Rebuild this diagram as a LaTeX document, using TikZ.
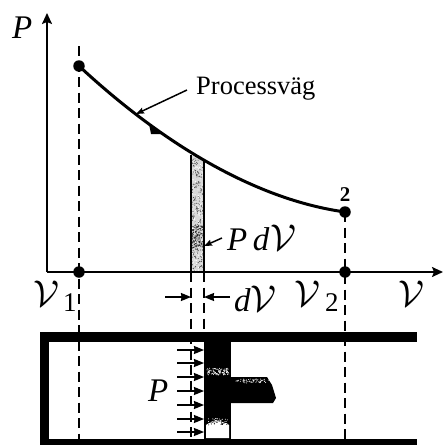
\documentclass[tikz,border=0pt]{standalone}
\usepackage{fontspec}
\setmainfont{Liberation Serif}
\usetikzlibrary{arrows.meta}
\newcommand{\VV}{\scalebox{1.5}{\fontsize{24.88}{24.88}\selectfont\ensuremath{\mathcal{V}}}}
\tikzset{
 axisline/.style={line width=1.8pt,-{Stealth[length=11pt,width=10pt,inset=2pt]}},
 dashline/.style={line width=1.8pt,dash pattern=on 10pt off 5.5pt},
 dot/.style={circle,fill=black,inner sep=0pt,minimum size=11.5pt},
 curveline/.style={line width=3pt},
 leader/.style={line width=1.5pt,-{Stealth[length=8pt,width=6pt,inset=1pt]}},
 press/.style={line width=1.3pt,-{Stealth[length=10pt,width=8pt,inset=0.5pt]}},
 wall/.style={fill=black,draw=none},
 lab/.style={inner sep=0pt,font=\fontsize{33}{33}\selectfont\itshape},
 sub/.style={inner sep=0pt,font=\fontsize{27}{27}\selectfont},
}
\begin{document}
\begin{tikzpicture}[x=1pt,y=-1pt]
\useasboundingbox (0,0) rectangle (443,445);
% bar
\fill[gray!30] (191,155) -- (204,161) -- (204,272) -- (191,272) -- cycle;
\pgfmathsetseed{7}
\foreach \i in {1,...,260}{\fill[black!70] ({191+13*rnd},{158+114*rnd}) circle (0.55pt);}
\foreach \i in {1,...,120}{\fill[white] ({191+13*rnd},{158+114*rnd}) circle (0.6pt);}
\foreach \i in {1,...,110}{\fill[black!85] ({192+11*rnd},{225+25*rnd}) circle (0.6pt);}
\draw[line width=1.8pt] (191,155)--(191,272) (204,161)--(204,272);
% axes
\coordinate (o) at (47,272);
\coordinate (ytop) at (47,13);
\coordinate (xend) at (443,272);
\draw[axisline] (o)--(ytop);
\draw[axisline] (o)--(xend);
% dashed
\coordinate (d1a) at (79,46); \coordinate (d1b) at (79,440);
\coordinate (d2a) at (345,212); \coordinate (d2b) at (345,440);
\coordinate (d3a) at (191,272); \coordinate (d3b) at (191,440);
\coordinate (d4a) at (204,272); \coordinate (d4b) at (204,332);
\draw[dashline] (d1a)--(d1b);
\draw[dashline] (d2a)--(d2b);
\draw[dashline] (d3a)--(d3b);
\draw[dashline] (d4a)--(d4b);
% cylinder
\fill[wall] (40,332) rectangle (417,342);
\fill[wall] (40,439) rectangle (417,445);
\fill[wall] (40,332) rectangle (49,445);
\fill[wall] (204,342) rectangle (231,439);
\fill[wall] (231,377) -- (267,377) -- (272,385) -- (276,398) -- (273,403) -- (231,403) -- cycle;
\pgfmathsetseed{3}
\foreach \i in {1,...,90}{\fill[white] ({207+22*rnd},{368+7*rnd}) circle (0.55pt);}
\foreach \i in {1,...,70}{\fill[white] ({236+37*rnd},{379+4*rnd}) circle (0.5pt);}
\fill[white] (206,438) -- (206,425) .. controls (212,420) and (224,420) .. (229,425) -- (229,438) -- cycle;
\foreach \i in {1,...,40}{\fill[black] ({206+23*rnd},{419+6*rnd}) circle (0.55pt);}
\foreach \i in {1,...,30}{\fill[white] ({208+20*rnd},{418+5*rnd}) circle (0.5pt);}
% curve
\node[dot] (p1) at (79,66) {};
\node[dot] (p2) at (345,212) {};
\node[dot] (q1) at (79,272) {};
\node[dot] (q2) at (345,272) {};
\draw[curveline] (p1.center) .. controls (150,132) and (245,198) .. (p2.center);
\fill (149,124) -- (163,134) -- (151,134) -- cycle;
% labels
\node[lab,anchor=base west] (lP) at (12,38) {P};
\node[inner sep=0pt,font=\fontsize{26.5}{26.5}\selectfont,anchor=base west] (lproc) at (196,94) {Processväg};
\coordinate (procend) at (187,90);
\coordinate (proctip) at (136,114);
\draw[leader] (procend)--(proctip);
\node[inner sep=0pt,font=\bfseries\fontsize{21}{21}\selectfont] (l2) at (345,195) {2};
\node[lab,anchor=base west] (lpdv) at (227,250) {P\,d\kern1pt\VV};
\coordinate (pdvs) at (222,238);
\coordinate (pdvt) at (204,246);
\draw[leader] (pdvs)--(pdvt);
\node[lab,anchor=base west] (lv1) at (33,306) {\VV};
\node[sub,anchor=base west] (sv1) at (63,311) {1};
\node[lab,anchor=base west] (lv2) at (294,306) {\VV};
\node[sub,anchor=base west] (sv2) at (325,311) {2};
\node[lab,anchor=base west] (lv) at (398,306) {\VV};
\node[lab,anchor=base west] (ldv) at (234,311) {d\VV};
\coordinate (al) at (165,297); \coordinate (ar) at (230,297);
\draw[press] (al)--(d3a|-al);
\draw[press] (ar)--(d4a|-ar);
\node[lab,anchor=base west] (lp2) at (148,401) {P};
\foreach \yy in {350,363,377,391,405,419,432}{
 \coordinate (ps) at (177,\yy); \coordinate (pe) at (204,\yy);
 \draw[press] (ps)--(pe);
}
\end{tikzpicture}
\end{document}
